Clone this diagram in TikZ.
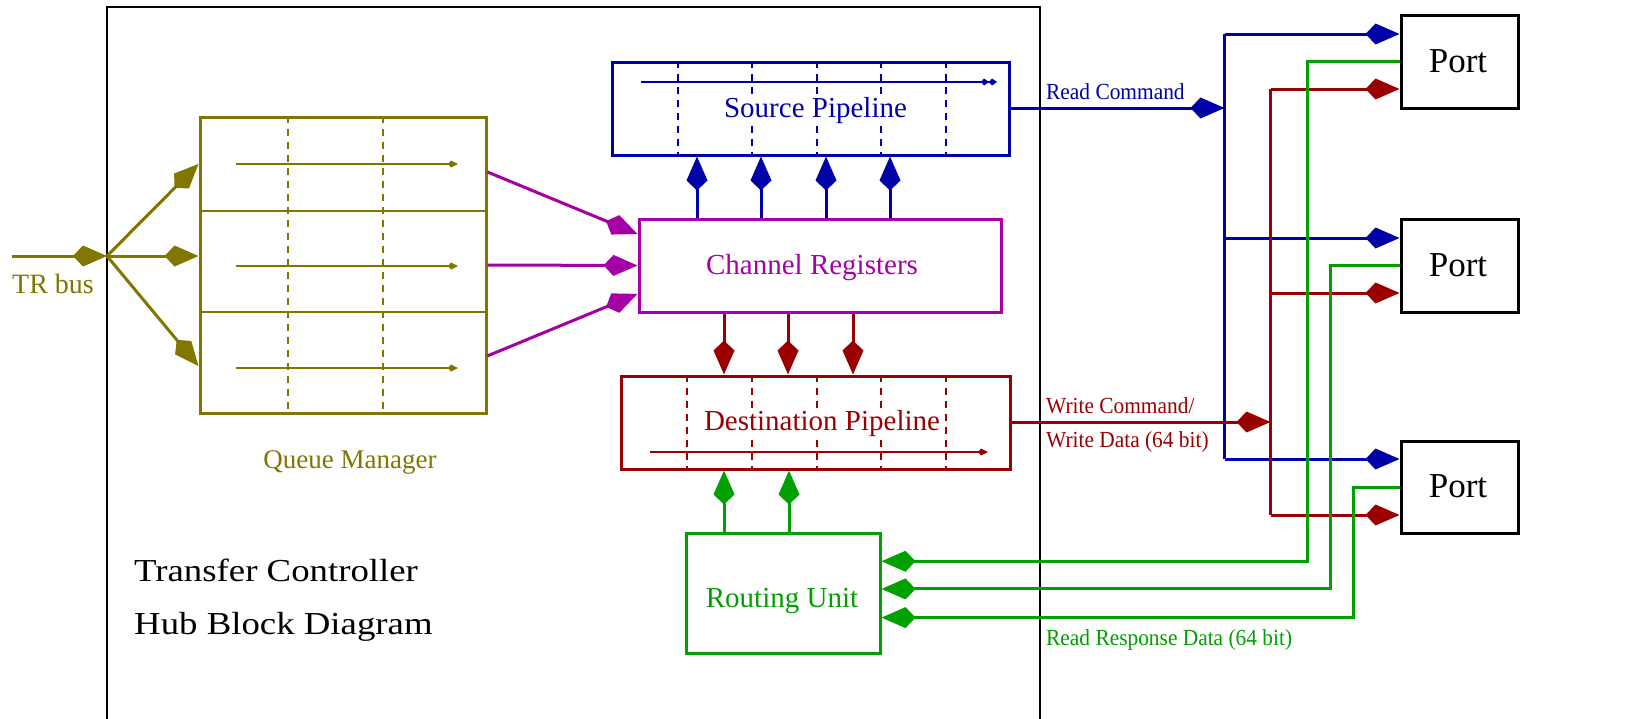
\documentclass[tikz,border=0pt]{standalone}
\usepackage{fontspec}
\setmainfont{Liberation Serif}
\usetikzlibrary{arrows.meta,calc}

\definecolor{qolive}{RGB}{128,118,0}
\definecolor{pblue}{RGB}{0,0,168}
\definecolor{dred}{RGB}{155,0,0}
\definecolor{rgreen}{RGB}{0,160,0}
\definecolor{cmag}{RGB}{165,0,165}

\newcommand{\fsz}[1]{\fontsize{#1}{#1}\selectfont}

\tikzset{
  HubTip/.tip={Kite[length=34pt,width=21pt,inset=10pt]},
  PipeTip/.tip={Kite[length=10pt,width=7pt,inset=3pt]},
  box/.style={draw, line width=3pt, inner sep=0pt, fill=white},
  bus/.style={line width=3pt},
  thinline/.style={line width=1.6pt},
  dashline/.style={line width=1.6pt, dash pattern=on 7pt off 6pt},
  lbl/.style={inner sep=0pt, anchor=base},
  sidelbl/.style={inner sep=0pt, anchor=base west},
}

\begin{document}
\begin{tikzpicture}[x=1pt, y=-1pt, line join=miter]
\useasboundingbox (0,0) rectangle (1625,718);
\fill[white] (0,0) rectangle (1625,718);

% hub frame
\draw[line width=1.8pt] (107,730) -- (107,7) -- (1040,7) -- (1040,730);

% ---------------- Queue Manager ----------------
\node[box, draw=qolive, minimum width=286, minimum height=296] (qm) at (343,265) {};
\foreach \y in {211,312}
  \draw[qolive, thinline] (qm.west |- 0,\y) -- (qm.east |- 0,\y);
\foreach \x in {288,383}
  \draw[qolive, dashline] (qm.north -| \x,0) -- (qm.south -| \x,0);
\foreach \y in {164,266,368}
  \draw[qolive, thinline, -{PipeTip}] (236,\y) -- (458,\y);
\node[lbl, qolive, font=\fsz{27}] (qml) at (350,468) {Queue Manager};

% TR bus fan-out
\coordinate (trs) at (12,256);
\coordinate (j) at (107,256);
\draw[qolive, bus, -{HubTip}] (trs) -- (j);
\draw[qolive, bus, -{HubTip}] (j) -- ($(qm.north west)!0.162!(qm.south west)$);
\draw[qolive, bus, -{HubTip}] (j) -- (qm.west |- j);
\draw[qolive, bus, -{HubTip}] (j) -- ($(qm.north west)!0.838!(qm.south west)$);
\node[sidelbl, qolive, font=\fsz{28}] (trl) at (12,293) {TR bus};

% ---------------- Source Pipeline ----------------
\node[box, draw=pblue, minimum width=397, minimum height=93] (sp) at (810.5,108.5) {};
\foreach \x in {678,752,817,881,946}
  \draw[pblue, dashline] (sp.north -| \x,0) -- (sp.south -| \x,0);
\draw[pblue, thinline, -{Kite[length=8pt,width=7pt,inset=3pt] Kite[length=8pt,width=7pt,inset=3pt]}] (641,82) -- (997,82);
\node[lbl, pblue, fill=white, font=\fsz{29}] (spl) at (815.5,117) {Source Pipeline};

% ---------------- Channel Registers ----------------
\node[box, draw=cmag, minimum width=362, minimum height=93] (cr) at (820,265.5) {};
\node[lbl, cmag, font=\fsz{29}] (crl) at (812,274) {Channel Registers};

\draw[cmag, bus, -{HubTip}] ($(qm.north east)!0.189!(qm.south east)$) -- ($(cr.north west)!0.172!(cr.south west)$);
\draw[cmag, bus, -{HubTip}] (qm.east) -- (cr.west);
\draw[cmag, bus, -{HubTip}] ($(qm.north east)!0.804!(qm.south east)$) -- ($(cr.north west)!0.796!(cr.south west)$);

\foreach \x in {697,761,826,890}
  \draw[pblue, bus, -{HubTip}] (cr.north -| \x,0) -- (sp.south -| \x,0);

% ---------------- Destination Pipeline ----------------
\node[box, draw=dred, minimum width=389, minimum height=93] (dp) at (815.5,422.5) {};
\foreach \x in {687,752,817,881,946}
  \draw[dred, dashline] (dp.north -| \x,0) -- (dp.south -| \x,0);
\draw[dred, thinline, -{PipeTip}] (650,452) -- (988,452);
\node[lbl, dred, fill=white, font=\fsz{29}] (dpl) at (822,430) {Destination Pipeline};

\foreach \x in {724,788,853}
  \draw[dred, bus, -{HubTip}] (cr.south -| \x,0) -- (dp.north -| \x,0);

% ---------------- Routing Unit ----------------
\node[box, draw=rgreen, minimum width=194, minimum height=120] (ru) at (783,593) {};
\node[lbl, rgreen, font=\fsz{29}] (rul) at (782,607) {Routing Unit};

\foreach \x in {724,789}
  \draw[rgreen, bus, -{HubTip}] (ru.north -| \x,0) -- (dp.south -| \x,0);

% ---------------- Ports ----------------
\node[box, draw=black, minimum width=117, minimum height=93] (p1) at (1459.5,61.5) {};
\node[box, draw=black, minimum width=117, minimum height=93] (p2) at (1459.5,265.5) {};
\node[box, draw=black, minimum width=117, minimum height=92] (p3) at (1459.5,487) {};
\node[lbl, font=\fsz{35}] (p1l) at (1458,72) {Port};
\node[lbl, font=\fsz{35}] (p2l) at (1458,276) {Port};
\node[lbl, font=\fsz{35}] (p3l) at (1458,497) {Port};

% Read command bus (blue)
\coordinate (rc) at ($(sp.east)+(214,-0.5)$);
\draw[pblue, bus, -{HubTip}] (sp.east |- rc) -- (rc);
\coordinate (b1) at ($(p1.west)+(0,-27.5)$);
\coordinate (b2) at ($(p2.west)+(0,-27.5)$);
\coordinate (b3) at ($(p3.west)+(0,-28)$);
\draw[pblue, bus] (rc |- b1) -- (rc |- b3);
\foreach \b in {b1,b2,b3}
  \draw[pblue, bus, -{HubTip}] (rc |- \b) -- (\b);

% Write command / write data bus (red)
\coordinate (wc) at ($(dp.east)+(259,-0.5)$);
\draw[dred, bus, -{HubTip}] (dp.east |- wc) -- (wc);
\coordinate (r1) at ($(p1.west)+(0,27.5)$);
\coordinate (r2) at ($(p2.west)+(0,27.5)$);
\coordinate (r3) at ($(p3.west)+(0,28)$);
\draw[dred, bus] (wc |- r1) -- (wc |- r3);
\foreach \r in {r1,r2,r3}
  \draw[dred, bus, -{HubTip}] (wc |- \r) -- (\r);

% Read response data (green)
\draw[rgreen, bus, {HubTip}-] ($(ru.north east)!0.242!(ru.south east)$) -| ($(p1.west)+(-92,0)$) -- (p1.west);
\draw[rgreen, bus, {HubTip}-] ($(ru.north east)!0.467!(ru.south east)$) -| ($(p2.west)+(-69,0)$) -- (p2.west);
\draw[rgreen, bus, {HubTip}-] ($(ru.north east)!0.70!(ru.south east)$) -| ($(p3.west)+(-46,0)$) -- (p3.west);

% bus labels
\node[sidelbl, pblue, font=\fsz{23}] (rcl) at (1046,99) {\scalebox{0.93}[1]{Read Command}};
\node[sidelbl, dred, font=\fsz{23}] (wcl) at (1046,413) {\scalebox{0.93}[1]{Write Command/}};
\node[sidelbl, dred, font=\fsz{23}] (wdl) at (1046,447) {\scalebox{0.93}[1]{Write Data (64 bit)}};
\node[sidelbl, rgreen, font=\fsz{23}] (rrl) at (1046,645) {\scalebox{0.93}[1]{Read Response Data (64 bit)}};

% title
\node[sidelbl, font=\fsz{32}] (t1) at (134,581) {\scalebox{1.15}[1]{Transfer Controller}};
\node[sidelbl, font=\fsz{32}] (t2) at (134,634) {\scalebox{1.15}[1]{Hub Block Diagram}};
\end{tikzpicture}
\end{document}
